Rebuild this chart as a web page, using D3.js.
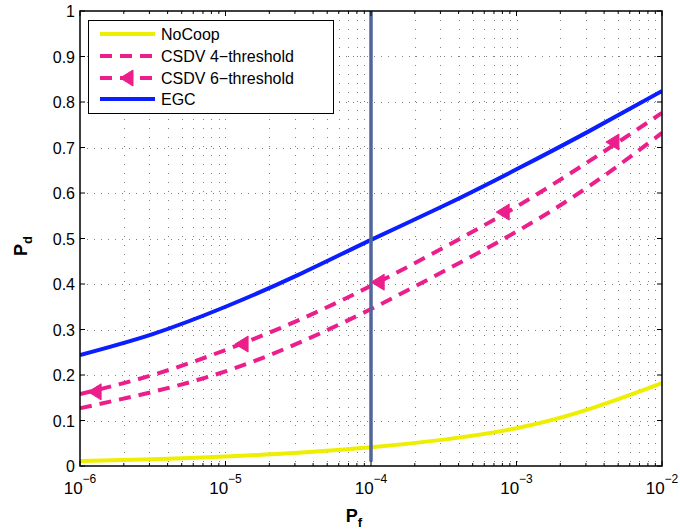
<!DOCTYPE html>
<html>
<head>
<meta charset="utf-8">
<script src="https://cdn.jsdelivr.net/npm/d3@7"></script>
<style>
  body { margin: 0; background: #fff; }
  svg { font-family: "Liberation Sans", Arial, sans-serif; }
</style>
</head>
<body>
<script>
// false alarm probability (x) and detection probability for each curve
const pf = [1e-6, 3.16e-6, 1e-5, 3.16e-5, 1e-4, 3.16e-4, 1e-3, 3.16e-3, 1e-2];
const noCoop = [0.011, 0.015, 0.021, 0.029, 0.041, 0.058, 0.083, 0.125, 0.182];
const csdv4 = [0.127, 0.163, 0.208, 0.270, 0.345, 0.428, 0.515, 0.615, 0.732];
const csdv6 = [0.158, 0.200, 0.255, 0.320, 0.396, 0.480, 0.570, 0.670, 0.776];
const egc = [0.244, 0.290, 0.350, 0.420, 0.497, 0.572, 0.652, 0.736, 0.824];
// marker positions on the CSDV 6-threshold curve
const markerPf = [1.27e-6, 1.3e-5, 1.12e-4, 8.1e-4, 4.6e-3];
const markerPd = [0.163, 0.268, 0.404, 0.558, 0.712];
const thresholdPf = 1e-4;
const yTicks = [0, 0.1, 0.2, 0.3, 0.4, 0.5, 0.6, 0.7, 0.8, 0.9, 1];
const xDecades = [-6, -5, -4, -3, -2];
const legendLabels = ["NoCoop", "CSDV 4\u2212threshold", "CSDV 6\u2212threshold", "EGC"];

const W = 680, H = 531;
const LEFT = 80, RIGHT = 662, TOP = 11, BOTTOM = 466;
const PINK = "#ec1e8c", YELLOW = "#eeee00", BLUE = "#0a1eff", SLATE = "#50659a";

const svg = d3.select("body").append("svg")
  .attr("width", W).attr("height", H);
svg.append("rect").attr("width", W).attr("height", H).attr("fill", "#fff");

const x = d3.scaleLog().domain([1e-6, 1e-2]).range([LEFT, RIGHT]);
const y = d3.scaleLinear().domain([0, 1]).range([BOTTOM, TOP]);

// minor+major log ticks
const logTicks = [];
for (let e = -6; e < -2; e++) {
  for (let m = 1; m < 10; m++) logTicks.push(m * Math.pow(10, e));
}
logTicks.push(1e-2);

svg.append("clipPath").attr("id", "plot")
  .append("rect").attr("x", LEFT).attr("y", TOP)
  .attr("width", RIGHT - LEFT).attr("height", BOTTOM - TOP);

// grid
const grid = svg.append("g").attr("stroke", "#000").attr("stroke-width", 1);
grid.selectAll(".vg").data(logTicks.slice(1, -1)).enter().append("line")
  .attr("x1", d => Math.round(x(d)) + 0.5).attr("x2", d => Math.round(x(d)) + 0.5)
  .attr("y1", TOP).attr("y2", BOTTOM)
  .attr("stroke-dasharray", "1,8").attr("stroke-opacity", 0.5);
grid.selectAll(".hg").data(yTicks.slice(1, -1)).enter().append("line")
  .attr("x1", LEFT).attr("x2", RIGHT)
  .attr("y1", d => Math.round(y(d)) + 0.5).attr("y2", d => Math.round(y(d)) + 0.5)
  .attr("stroke-dasharray", "1,6").attr("stroke-opacity", 0.5);

// curves
const line = d3.line()
  .x((d, i) => x(pf[i]))
  .y(d => y(d))
  .curve(d3.curveNatural);

const plot = svg.append("g").attr("clip-path", "url(#plot)");
plot.append("path").datum(noCoop).attr("d", line)
  .attr("fill", "none").attr("stroke", YELLOW).attr("stroke-width", 4);
plot.append("path").datum(csdv4).attr("d", line)
  .attr("fill", "none").attr("stroke", PINK).attr("stroke-width", 4)
  .attr("stroke-dasharray", "12,8");
plot.append("path").datum(csdv6).attr("d", line)
  .attr("fill", "none").attr("stroke", PINK).attr("stroke-width", 4)
  .attr("stroke-dasharray", "12,8");
plot.append("path").datum(egc).attr("d", line)
  .attr("fill", "none").attr("stroke", BLUE).attr("stroke-width", 4);

// threshold line
plot.append("line")
  .attr("x1", x(thresholdPf)).attr("x2", x(thresholdPf))
  .attr("y1", y(0.01)).attr("y2", y(1))
  .attr("stroke", SLATE).attr("stroke-width", 3.5);

const tri = "M-7,0L6,-8L6,8Z";
plot.selectAll(".mk").data(markerPd).enter().append("path")
  .attr("d", tri)
  .attr("transform", (d, i) => `translate(${x(markerPf[i])},${y(d)})`)
  .attr("fill", PINK).attr("stroke", PINK).attr("stroke-width", 1);

// axes box
svg.append("rect").attr("x", LEFT).attr("y", TOP)
  .attr("width", RIGHT - LEFT).attr("height", BOTTOM - TOP)
  .attr("fill", "none").attr("stroke", "#000").attr("stroke-width", 1.5);

// ticks inside
const ticks = svg.append("g").attr("stroke", "#000").attr("stroke-width", 1);
yTicks.forEach(v => {
  ticks.append("line").attr("x1", LEFT).attr("x2", LEFT + 5).attr("y1", y(v)).attr("y2", y(v));
  ticks.append("line").attr("x1", RIGHT).attr("x2", RIGHT - 5).attr("y1", y(v)).attr("y2", y(v));
});
logTicks.forEach(v => {
  const major = xDecades.some(e => Math.abs(Math.log10(v) - e) < 1e-9);
  const len = major ? 5 : 3;
  ticks.append("line").attr("x1", x(v)).attr("x2", x(v)).attr("y1", BOTTOM).attr("y2", BOTTOM - len);
  ticks.append("line").attr("x1", x(v)).attr("x2", x(v)).attr("y1", TOP).attr("y2", TOP + len);
});

// tick labels
svg.append("g").selectAll("text").data(yTicks).enter().append("text")
  .attr("x", 75).attr("y", d => y(d) + 6)
  .attr("text-anchor", "end").attr("font-size", 16)
  .text(d => d === 0 || d === 1 ? String(d) : d.toFixed(1));

const xl = svg.append("g").selectAll("text").data(xDecades).enter().append("text")
  .attr("x", d => x(Math.pow(10, d)) + 0)
  .attr("y", 494).attr("text-anchor", "middle").attr("font-size", 17);
xl.append("tspan").text("10");
xl.append("tspan").attr("font-size", 12).attr("dy", -11).text(d => "\u2212" + (-d));

// axis labels
const yl = svg.append("text")
  .attr("transform", "translate(27,246) rotate(-90)")
  .attr("text-anchor", "middle").attr("font-size", 18).attr("font-weight", "bold");
yl.append("tspan").text("P");
yl.append("tspan").attr("font-size", 13).attr("dy", 5).text("d");

const xlab = svg.append("text")
  .attr("x", 354).attr("y", 522)
  .attr("text-anchor", "middle").attr("font-size", 18).attr("font-weight", "bold");
xlab.append("tspan").text("P");
xlab.append("tspan").attr("font-size", 13).attr("dy", 5).text("f");

// legend
const lg = svg.append("g");
lg.append("rect").attr("x", 88.5).attr("y", 20.5).attr("width", 245).attr("height", 93)
  .attr("fill", "#fff").attr("stroke", "#000").attr("stroke-width", 1);
const rowY = [34, 56, 78, 99];
const styles = [
  { c: YELLOW, dash: null, mk: false },
  { c: PINK, dash: "12,8", mk: false },
  { c: PINK, dash: "12,8", mk: true },
  { c: BLUE, dash: null, mk: false }
];
legendLabels.forEach((t, i) => {
  lg.append("line").attr("x1", 100).attr("x2", 155).attr("y1", rowY[i]).attr("y2", rowY[i])
    .attr("stroke", styles[i].c).attr("stroke-width", 4)
    .attr("stroke-dasharray", styles[i].dash);
  if (styles[i].mk) {
    lg.append("path").attr("d", tri).attr("transform", `translate(127,${rowY[i]})`)
      .attr("fill", PINK).attr("stroke", PINK);
  }
  lg.append("text").attr("x", 161).attr("y", rowY[i] + 6)
    .attr("font-size", 16).text(t);
});
</script>
</body>
</html>
